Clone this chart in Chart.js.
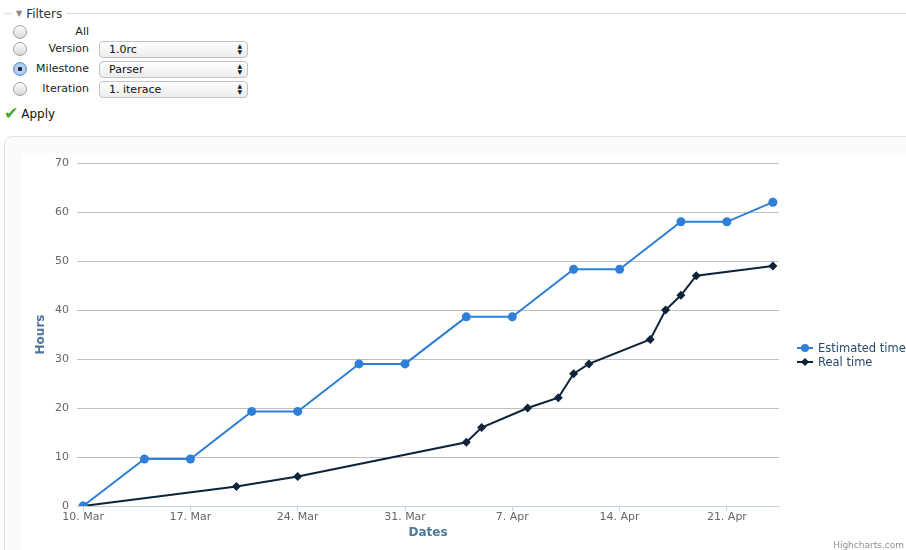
<!DOCTYPE html>
<html>
<head>
<meta charset="utf-8">
<script src="https://cdn.jsdelivr.net/npm/chart.js@4.4.1/dist/chart.umd.min.js"></script>
<style>
  html, body { margin: 0; padding: 0; background: #fff; width: 906px; height: 550px; overflow: hidden; }
  body { position: relative; font-family: "DejaVu Sans", sans-serif; color: #222; }
  .abs { position: absolute; }
  .rule { left: 4px; top: 13px; width: 902px; border-top: 1px solid #dcdcdc; }
  .legend-title { left: 12px; top: 6px; padding: 0 4px; background: #fff; font-size: 12px; color: #333; line-height: 16px; }
  .legend-title .tri { font-size: 8px; color: #888; vertical-align: 2px; margin-right: 4px; }
  .radio { width: 14px; height: 14px; border-radius: 50%; border: 1px solid #a0a0a0;
           background: linear-gradient(#fdfdfd, #d8d8d8); box-sizing: border-box; }
  .radio.on { border-color: #5d8fc9; background: radial-gradient(circle, #1b2a3a 0 2px, #bcd6f3 2.5px, #8fb6e6 100%); }
  .lbl { width: 89px; text-align: right; font-size: 11px; color: #222; line-height: 16px; }
  .sel { left: 99px; width: 149px; height: 17px; box-sizing: border-box; border: 1px solid #c3c3c3; border-radius: 4px;
         background: linear-gradient(#ffffff, #ececec); font-size: 11px; line-height: 15px; padding-left: 9px; color: #111; }
  .sel .arr { position: absolute; right: 5px; top: 1px; font-size: 6px; line-height: 6px; color: #111; }
  .apply { left: 4px; top: 103px; font-size: 12px; color: #111; line-height: 20px; }
  .apply .chk { color: #4aa62c; font-size: 17px; margin-right: 3px; vertical-align: -1px; }
  .box { left: 4px; top: 136px; width: 920px; height: 440px; border: 1px solid #e3e3e3; border-radius: 8px; background: #fafafa; box-sizing: border-box; }
  .plot { left: 21px; top: 153px; width: 885px; height: 397px; background: #fff; }
  #c { position: absolute; left: 21px; top: 153px; }
  .leg { left: 797px; font-size: 11.5px; color: #274b6d; line-height: 14px; white-space: nowrap; }
  .leg .ln { position: absolute; left: 0; top: 6px; width: 16px; height: 2px; }
  .leg .mk { position: absolute; left: 4px; top: 3px; width: 8px; height: 8px; }
  .leg span.t { position: absolute; left: 21px; top: 0; }
  .credit { right: 2px; top: 539px; font-size: 9px; color: #909090; line-height: 12px; }
</style>
</head>
<body>
<div class="abs rule"></div>
<div class="abs legend-title"><span class="tri">&#9660;</span>Filters</div>

<div class="abs radio" style="left:13px; top:25px;"></div>
<div class="abs lbl" style="left:0; top:24px;">All</div>

<div class="abs radio" style="left:13px; top:42px;"></div>
<div class="abs lbl" style="left:0; top:41px;">Version</div>
<div class="abs sel" style="top:41px;">1.0rc<span class="arr">&#9650;<br>&#9660;</span></div>

<div class="abs radio on" style="left:13px; top:62px;"></div>
<div class="abs lbl" style="left:0; top:61px;">Milestone</div>
<div class="abs sel" style="top:61px;">Parser<span class="arr">&#9650;<br>&#9660;</span></div>

<div class="abs radio" style="left:13px; top:82px;"></div>
<div class="abs lbl" style="left:0; top:81px;">Iteration</div>
<div class="abs sel" style="top:81px;">1. iterace<span class="arr">&#9650;<br>&#9660;</span></div>

<div class="abs apply"><span class="chk">&#10004;</span>Apply</div>

<div class="abs box"></div>
<div class="abs plot"></div>
<canvas id="c" width="885" height="397"></canvas>

<div class="abs leg" style="top:341px;">
  <div class="ln" style="background:#2f7ed8"></div>
  <div class="mk" style="background:#2f7ed8; border-radius:50%;"></div>
  <span class="t">Estimated time</span>
</div>
<div class="abs leg" style="top:355px;">
  <div class="ln" style="background:#0d233a"></div>
  <div class="mk" style="background:#0d233a; transform:rotate(45deg) scale(0.72);"></div>
  <span class="t">Real time</span>
</div>
<div class="abs credit">Highcharts.com</div>

<script>
// days counted from 10. Mar
const tickDays = [0, 7, 14, 21, 28, 35, 42];
const tickLabels = ['10. Mar', '17. Mar', '24. Mar', '31. Mar', '7. Apr', '14. Apr', '21. Apr'];

const estimatedDays = [0, 4, 7, 11, 14, 18, 21, 25, 28, 32, 35, 39, 42, 45];
const estimatedHours = [0, 9.6, 9.6, 19.3, 19.3, 29, 29, 38.6, 38.6, 48.3, 48.3, 58, 58, 62];

const realDays = [0, 10, 14, 25, 26, 29, 31, 32, 33, 37, 38, 39, 40, 45];
const realHours = [0, 4, 6, 13, 16, 20, 22.1, 27, 29, 34, 40, 43, 47, 49];

const font = 'DejaVu Sans';

const ctx = document.getElementById('c').getContext('2d');
const chart = new Chart(ctx, {
    type: 'line',
    data: {
        datasets: [
            {
                label: 'Estimated time',
                data: estimatedDays.map((d, i) => ({ x: d, y: estimatedHours[i] })),
                borderColor: '#2f7ed8',
                backgroundColor: '#2f7ed8',
                borderWidth: 2,
                pointStyle: 'circle',
                pointRadius: 4.5,
                pointBorderWidth: 0,
                tension: 0
            },
            {
                label: 'Real time',
                data: realDays.map((d, i) => ({ x: d, y: realHours[i] })),
                borderColor: '#0d233a',
                backgroundColor: '#0d233a',
                borderWidth: 2,
                pointStyle: 'rectRot',
                pointRadius: 4.5,
                pointBorderWidth: 0,
                tension: 0
            }
        ]
    },
    options: {
        responsive: false,
        animation: false,
        layout: { padding: { top: 10, right: 127, left: 0, bottom: 0 } },
        plugins: {
            legend: { display: false },
            tooltip: { enabled: false }
        },
        scales: {
            x: {
                type: 'linear',
                min: -0.4,
                max: 45.4,
                afterBuildTicks: function (scale) {
                    scale.ticks = tickDays.map(v => ({ value: v }));
                },
                afterFit: function (scale) { scale.height = 44; },
                border: { display: true, color: '#C0D0E0', width: 1 },
                grid: { drawOnChartArea: false, drawTicks: true, tickLength: 5, color: '#C0D0E0' },
                ticks: {
                    padding: 0,
                    color: '#666',
                    font: { family: font, size: 11 },
                    maxRotation: 0,
                    autoSkip: false,
                    callback: function (value, index) { return tickLabels[index]; }
                },
                title: {
                    display: true,
                    text: 'Dates',
                    color: '#4d759e',
                    font: { family: font, size: 12, weight: 'bold' },
                    padding: { top: 0, bottom: 10 }
                }
            },
            y: {
                min: 0,
                max: 70,
                afterFit: function (scale) {
                    scale.width = 56;
                    scale.paddingTop = 0;
                    scale.paddingBottom = 0;
                },
                border: { display: false },
                grid: { color: '#C0C0C0', drawTicks: false },
                ticks: {
                    stepSize: 10,
                    padding: 8,
                    color: '#666',
                    font: { family: font, size: 11 }
                },
                title: {
                    display: true,
                    text: 'Hours',
                    color: '#4d759e',
                    font: { family: font, size: 12, weight: 'bold' },
                    padding: { top: 13, bottom: 0 }
                }
            }
        }
    }
});
</script>
</body>
</html>
